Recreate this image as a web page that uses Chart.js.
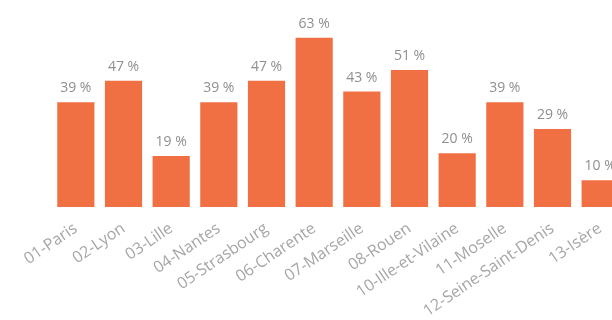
<!DOCTYPE html>
<html lang="fr">
<head>
<meta charset="UTF-8">
<script src="https://cdn.jsdelivr.net/npm/chart.js"></script>
<title>Taux par département</title>
<style>
  html, body { margin: 0; padding: 0; background: #fff; overflow: hidden; }
  #wrap { position: relative; width: 624px; height: 320px; }
</style>
<script>
  // catégories (départements)
  const categories = ['01-Paris', '02-Lyon', '03-Lille', '04-Nantes', '05-Strasbourg', '06-Charente',
    '07-Marseille', '08-Rouen', '10-Ille-et-Vilaine', '11-Moselle', '12-Seine-Saint-Denis', '13-Isère'];
  // valeurs en %
  const values = [39, 47, 19, 39, 47, 63, 43, 51, 20, 39, 29, 10];
  const barColor = '#f07043';
</script>
</head>
<body>
<div id="wrap"><canvas id="myChart"></canvas></div>

<script>
  // étiquettes au-dessus des barres
  const valueLabels = {
    id: 'valueLabels',
    afterDatasetsDraw(chart) {
      const c = chart.ctx;
      const meta = chart.getDatasetMeta(0);
      c.save();
      c.font = '14px "Open Sans", sans-serif';
      c.fillStyle = '#8f8f8f';
      c.textAlign = 'center';
      c.textBaseline = 'alphabetic';
      meta.data.forEach((bar, i) => {
        c.fillText(values[i] + ' %', bar.x, bar.y - 10);
      });
      c.restore();
    }
  };

  const ctx = document.getElementById('myChart');
  new Chart(ctx, {
    type: 'bar',
    data: {
      labels: categories,
      datasets: [{
        data: values,
        backgroundColor: barColor,
        barPercentage: 0.78,
        categoryPercentage: 1
      }]
    },
    options: {
      responsive: true,
      maintainAspectRatio: false,
      animation: false,
      layout: { padding: { left: 52, right: 0, top: 19, bottom: 0 } },
      plugins: { legend: { display: false }, tooltip: { enabled: false } },
      scales: {
        x: {
          grid: { display: false },
          border: { display: false },
          ticks: {
            minRotation: 34,
            maxRotation: 34,
            color: '#a6a6a6',
            font: { family: '"Open Sans", sans-serif', size: 16 },
            padding: 4
          },
          afterFit(axis) { axis.height = 113; }
        },
        y: {
          display: false,
          min: 0,
          max: 70
        }
      }
    },
    plugins: [valueLabels]
  });
</script>
</body>
</html>
